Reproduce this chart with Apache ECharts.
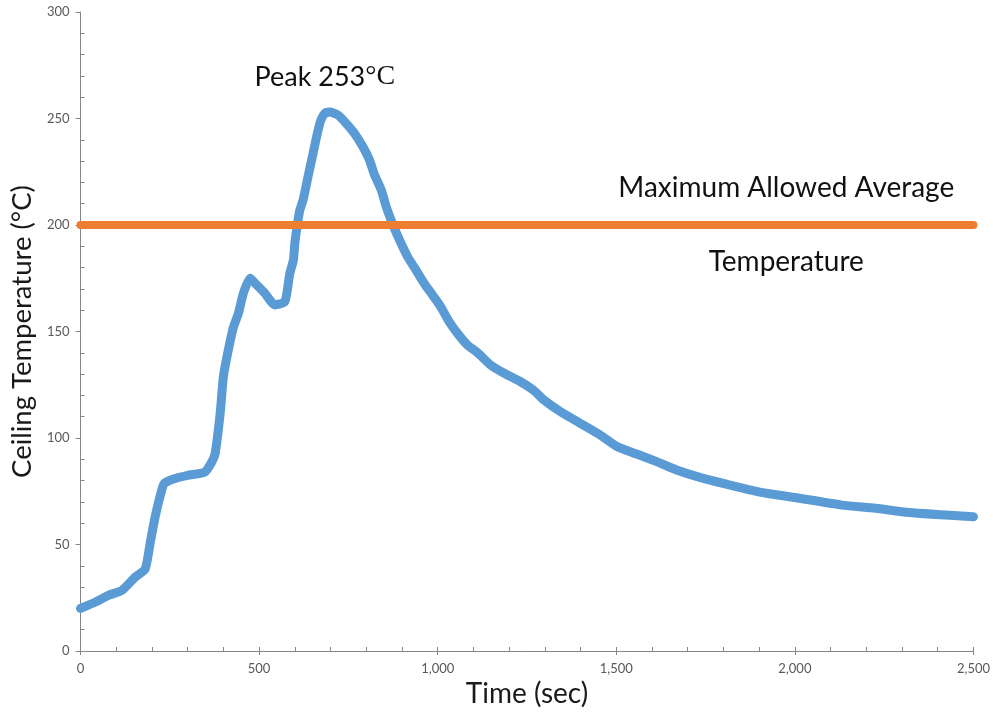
<!DOCTYPE html>
<html>
<head>
<meta charset="utf-8">
<script src="https://cdn.jsdelivr.net/npm/echarts@6/dist/echarts.min.js"></script>
<style>
  html, body { margin: 0; padding: 0; background: #fff; }
  #chart { width: 993px; height: 719px; }
</style>
</head>
<body>
<div id="chart"></div>
<script>
// Ceiling temperature measured over the test duration
const timeSec = [0, 42, 81, 117, 153, 181, 195, 209, 229, 237, 265, 300, 348, 368, 377, 391, 400, 412,
  428, 442, 456, 475, 489, 516, 544, 572, 586, 596, 600, 607, 614, 623, 637, 651, 663, 673, 684, 698,
  721, 744, 767, 791, 809, 822, 842, 856, 875, 893, 916, 939, 962, 986, 1009, 1032, 1056, 1083,
  1112, 1148, 1185, 1232, 1268, 1283, 1296, 1343, 1399, 1455, 1502, 1557, 1613, 1669, 1734, 1808,
  1901, 1994, 2132, 2226, 2319, 2500];
const ceilingTemp = [20, 23, 26.3, 28.6, 34.7, 38.5, 50.7, 63, 76.5, 79, 81, 82.5, 84, 88.9, 92.8, 111.6,
  128.8, 139.8, 152, 158.5, 168, 175, 172.6, 168, 162.5, 164, 177.3, 183.6, 191.4, 200, 207, 211.7,
  222.7, 233.6, 243, 249.3, 252.4, 253, 251.6, 247.7, 243, 236.6, 230.5, 224, 216.4, 208.5, 200,
  193, 185, 178.9, 172.7, 167, 161.5, 154.6, 149, 143.7, 140, 134.3, 130.5, 126.4, 122.5, 120.2,
  118, 112.4, 106.9, 101.4, 96, 92.5, 88.9, 85, 81.5, 78.3, 74.6, 72.2, 68.5, 67, 65, 63];

// Regulatory limit
const limitTime = [0, 2500];
const limitTemp = [200, 200];

const peakTime = 698;
const peakTemp = 253;

const xMin = 0, xMax = 2500, xStep = 500;
const yMin = 0, yMax = 300, yStep = 50;

const FONT = 'Lato, "Open Sans", sans-serif';

const chart = echarts.init(document.getElementById('chart'), null, { renderer: 'canvas' });

const fmtThousands = v => v.toLocaleString('en-US');

chart.setOption({
  animation: false,
  backgroundColor: '#ffffff',
  grid: { left: 78, right: 18, top: 12, bottom: 68, containLabel: false },
  xAxis: [{
    type: 'value', min: xMin, max: xMax, interval: xStep,
    name: 'Time (sec)', nameLocation: 'middle', nameGap: 27,
    nameTextStyle: { fontFamily: FONT, fontSize: 28, color: '#1a1a1a' },
    axisLine: { lineStyle: { color: '#868686', width: 1 } },
    axisTick: { show: true, inside: true, length: 4, lineStyle: { color: '#868686' } },
    minorTick: { show: true, splitNumber: 5, length: 4, lineStyle: { color: '#868686' } },
    axisLabel: { fontFamily: FONT, fontSize: 13, color: '#595959', margin: 11, formatter: fmtThousands },
    splitLine: { show: false }
  }, {
    // outer half of the major ticks on the time axis
    type: 'value', min: xMin, max: xMax, interval: xStep, position: 'bottom',
    axisLine: { show: false },
    axisTick: { show: true, inside: false, length: 4, lineStyle: { color: '#868686' } },
    axisLabel: { show: false }, splitLine: { show: false }
  }],
  yAxis: {
    type: 'value', min: yMin, max: yMax, interval: yStep,
    name: 'Ceiling Temperature (°C)', nameLocation: 'middle', nameGap: 34,
    nameTextStyle: { fontFamily: FONT, fontSize: 27.5, color: '#1a1a1a' },
    axisLine: { show: true, lineStyle: { color: '#868686', width: 1 } },
    axisTick: { show: true, inside: false, length: 5, lineStyle: { color: '#868686' } },
    minorTick: { show: true, splitNumber: 5, length: -4, lineStyle: { color: '#868686' } },
    axisLabel: { fontFamily: FONT, fontSize: 13, color: '#595959', margin: 11 },
    splitLine: { show: false }
  },
  series: [{
    type: 'line',
    name: 'Ceiling',
    data: timeSec.map((t, i) => [t, ceilingTemp[i]]),
    showSymbol: false,
    smooth: 0.2,
    lineStyle: { color: '#5B9BD5', width: 9, cap: 'round', join: 'round' },
    markPoint: {
      symbol: 'circle', symbolSize: 0, silent: true,
      data: [{ coord: [peakTime, peakTemp] }],
      label: {
        show: true, position: 'inside', offset: [-5, -35],
        formatter: () => '{a|Peak ' + peakTemp + '}{b|°C}',
        rich: {
          a: { fontFamily: FONT, fontSize: 27, color: '#111' },
          b: { fontFamily: '"Liberation Serif", serif', fontSize: 28, color: '#111' }
        }
      }
    },
    z: 2
  }, {
    type: 'line',
    name: 'Limit',
    data: limitTime.map((t, i) => [t, limitTemp[i]]),
    showSymbol: false,
    lineStyle: { color: '#ED7D31', width: 8, cap: 'round' },
    markPoint: {
      symbol: 'circle', symbolSize: 0, silent: true,
      label: { show: true, position: 'inside', fontFamily: FONT, fontSize: 28, color: '#111' },
      data: [
        { coord: [1976, 200], label: { formatter: 'Maximum Allowed Average', offset: [0, -37] } },
        { coord: [1976, 200], label: { formatter: 'Temperature', offset: [0, 37] } }
      ]
    },
    z: 3
  }]
});
</script>
</body>
</html>
